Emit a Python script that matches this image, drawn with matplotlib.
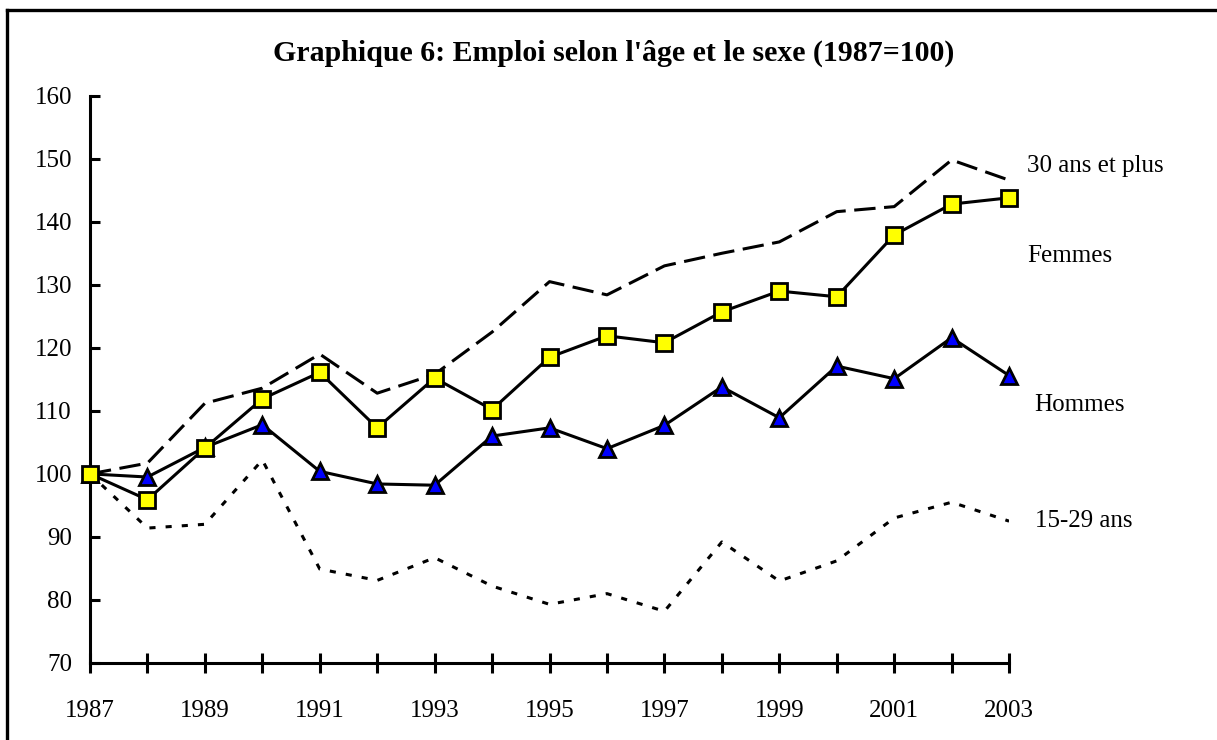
import matplotlib
matplotlib.use("Agg")
import matplotlib.pyplot as plt
from matplotlib.lines import Line2D

# Emploi selon l'âge et le sexe, indice 1987 = 100
years = list(range(1987, 2004))
plus_30 = [100.0, 101.7, 111.2, 113.6, 119.0, 112.8, 115.8, 122.5, 130.5, 128.4,
           133.0, 135.0, 136.8, 141.6, 142.4, 149.8, 146.6]
femmes = [100.0, 95.9, 104.1, 111.9, 116.1, 107.3, 115.2, 110.2, 118.5, 121.9,
          120.8, 125.7, 129.0, 128.1, 137.9, 142.8, 143.8]
hommes = [100.0, 99.5, 104.2, 107.8, 100.4, 98.4, 98.2, 106.0, 107.3, 104.0,
          107.7, 113.8, 108.9, 117.1, 115.1, 121.6, 115.6]
age_15_29 = [100.0, 91.4, 92.0, 102.2, 84.9, 83.1, 86.7, 82.2, 79.3, 81.0,
             78.2, 89.2, 83.0, 86.2, 93.0, 95.5, 92.5]

labels = ["30 ans et plus", "Femmes", "Hommes", "15-29 ans"]
label_pos = [(2003.31, 148.8), (2003.31, 134.6), (2003.43, 111.0), (2003.45, 92.5)]

plt.rcParams["font.family"] = ["Liberation Serif", "DejaVu Serif"]

fig = plt.figure(figsize=(12.17, 7.40), dpi=100)
ax = fig.add_axes([0.07395, 0.1041, 0.7552, 0.7666])

ax.plot(years, age_15_29, color="black", lw=2.2, dashes=(2, 3.3), zorder=2)
ax.plot(years, plus_30, color="black", lw=2.2, dashes=(7, 2.8), zorder=2)
ax.plot(years, hommes, color="black", lw=2.2, marker="^", markersize=12,
        markerfacecolor="#0000ff", markeredgecolor="black", markeredgewidth=2,
        zorder=3, clip_on=False)
ax.plot(years, femmes, color="black", lw=2.2, marker="s", markersize=11,
        markerfacecolor="#ffff00", markeredgecolor="black", markeredgewidth=2,
        zorder=4, clip_on=False)

ax.set_xlim(1987, 2003)
ax.set_ylim(70, 160)
ax.set_yticks(range(70, 161, 10))
ax.set_xticks(years, minor=True)
ax.set_xticks(years[::2])
ax.tick_params(axis="y", direction="in", length=7, width=2.2, labelsize=18, pad=13)
ax.tick_params(axis="x", which="both", direction="inout", length=15, width=2.2,
               labelsize=18, pad=19)
for side in ["top", "right"]:
    ax.spines[side].set_visible(False)
for side in ["left", "bottom"]:
    ax.spines[side].set_linewidth(2.2)

for txt, (x, y) in zip(labels, label_pos):
    ax.text(x, y, txt, fontsize=18, va="center", ha="left", clip_on=False)

fig.text(0.504, 0.928, "Graphique 6: Emploi selon l'âge et le sexe (1987=100)",
         ha="center", va="center", fontsize=21.5, fontweight="bold")

# cadre autour du graphique (coupé à droite et en bas)
fig.add_artist(Line2D([0.0055, 1.0], [0.9865, 0.9865], color="black", lw=2.4,
                      transform=fig.transFigure))
fig.add_artist(Line2D([0.0055, 0.0055], [0.0, 0.9865], color="black", lw=2.4,
                      transform=fig.transFigure))

fig.savefig("out.png", dpi=100)
